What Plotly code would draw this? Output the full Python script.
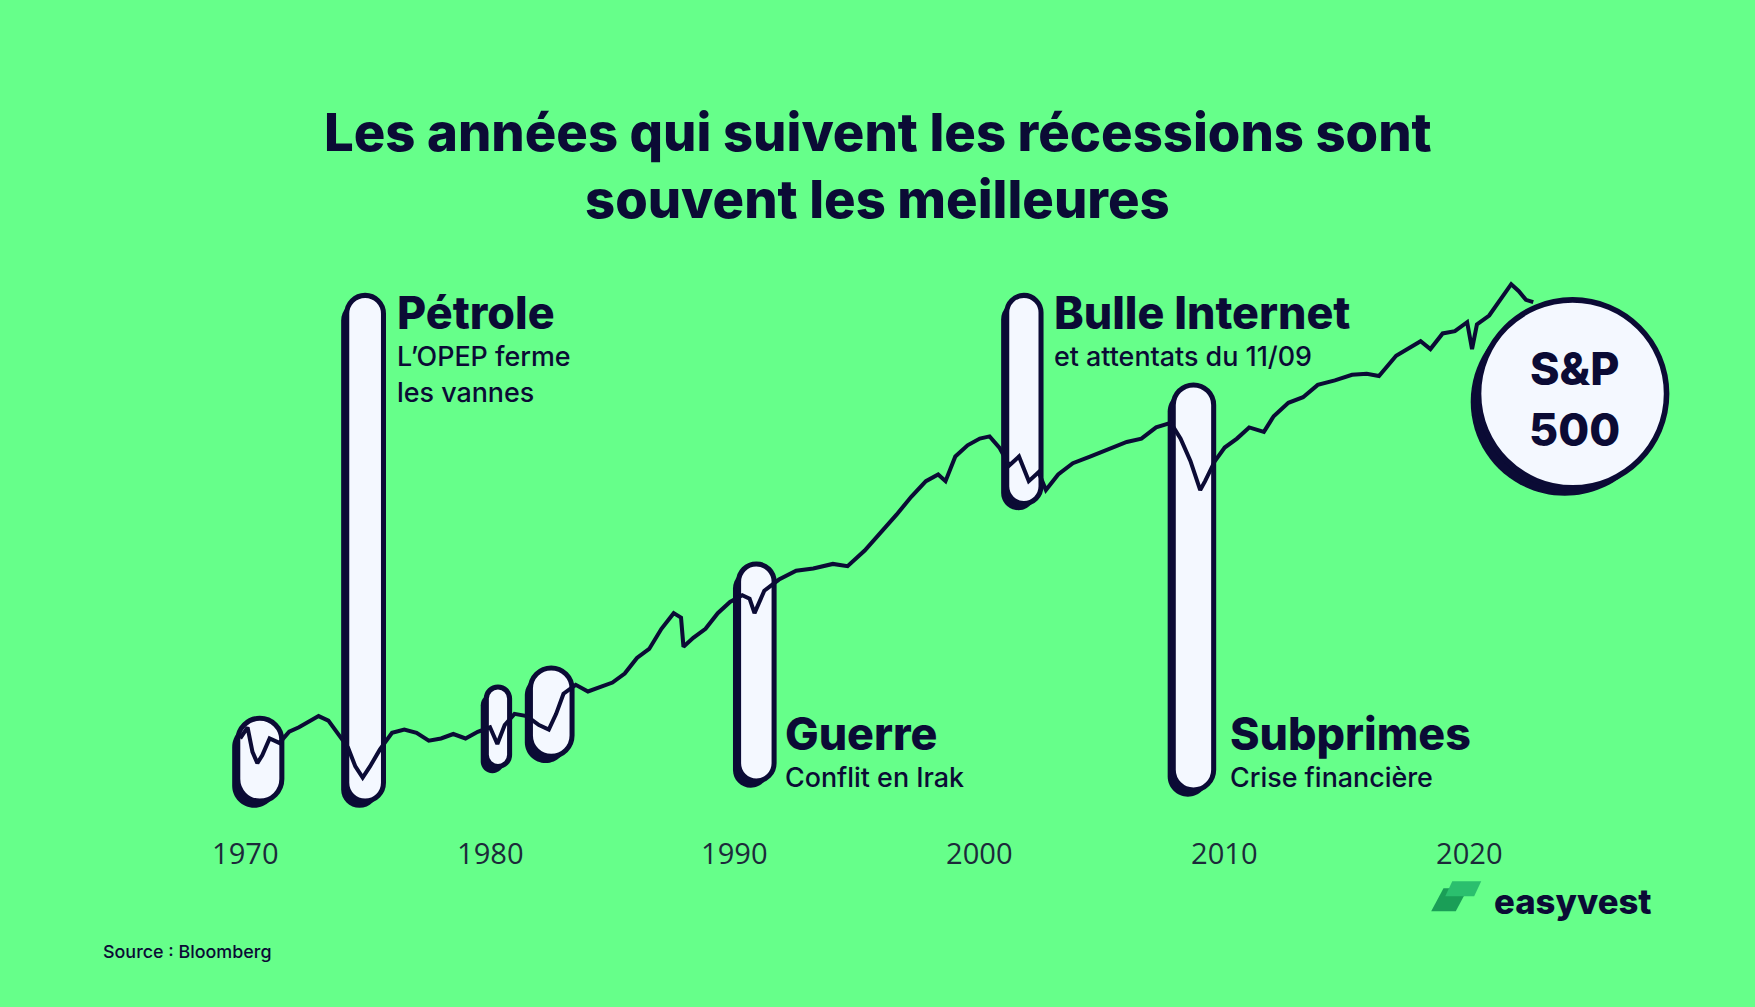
import plotly.graph_objects as go

# reference drawn at 1568x900, page is 1755x1007
S = 1755 / 1568
W, H = 1568, 900
BG = "#66ff8a"
NAVY = "#0b0b35"
WHITE = "#f4f8ff"
FONT = "Inter"

# S&P 500 path (year, level in chart units: higher = up)
years = [1969.8, 1970.1, 1970.3, 1970.5, 1970.7, 1971.0, 1971.4, 1971.8, 1972.2, 1972.6, 1973.0,
         1973.4, 1973.8, 1974.2, 1974.5, 1974.8, 1975.1, 1975.5, 1976.0, 1976.5, 1977.0, 1977.5,
         1978.0, 1978.5, 1979.0, 1979.5, 1980.0, 1980.3, 1980.6, 1981.0, 1981.5, 1982.0, 1982.4,
         1982.7, 1983.0, 1983.5, 1984.0, 1984.5, 1985.0, 1985.5, 1986.0, 1986.5, 1987.0, 1987.5,
         1987.8, 1987.9, 1988.3, 1988.8, 1989.3, 1989.8, 1990.3, 1990.6, 1990.8, 1991.2, 1991.8,
         1992.5, 1993.2, 1994.0, 1994.6, 1995.3, 1996.0, 1996.6, 1997.2, 1997.8, 1998.3, 1998.6,
         1999.0, 1999.5, 2000.0, 2000.4, 2000.8, 2001.2, 2001.6, 2002.0, 2002.4, 2002.7, 2003.2,
         2003.8, 2004.5, 2005.2, 2006.0, 2006.6, 2007.2, 2007.8, 2008.2, 2008.6, 2009.0, 2009.2,
         2009.6, 2010.0, 2010.5, 2011.0, 2011.6, 2012.0, 2012.6, 2013.2, 2013.8, 2014.5, 2015.2,
         2015.8, 2016.3, 2017.0, 2017.6, 2018.0, 2018.4, 2018.9, 2019.4, 2019.9, 2020.1, 2020.3,
         2020.8, 2021.3, 2021.7, 2022.0, 2022.3, 2022.6]
levels = [240, 250, 228, 218, 225, 240, 236, 246, 250, 255, 260,
          256, 244, 232, 215, 205, 215, 230, 245, 248, 245, 238,
          240, 244, 240, 246, 250, 235, 252, 262, 260, 252, 248,
          262, 280, 288, 282, 286, 290, 298, 312, 320, 338, 352,
          348, 322, 330, 338, 352, 362, 368, 365, 352, 372, 382,
          390, 392, 396, 394, 408, 425, 440, 456, 470, 476, 470,
          492, 502, 508, 510, 500, 484, 492, 470, 478, 462, 476,
          486, 492, 498, 505, 508, 518, 522, 508, 488, 462, 470,
          488, 500, 508, 518, 514, 528, 540, 545, 556, 560, 565,
          566, 564, 582, 590, 595, 588, 602, 604, 612, 588, 610,
          618, 634, 646, 640, 632, 630]

# recession pills: start year, end year, bottom level, top level
rec_start = [1969.7, 1974.15, 1979.85, 1981.65, 1990.15, 2001.1, 2007.9]
rec_end = [1971.5, 1975.65, 1980.8, 1983.35, 1991.6, 2002.5, 2009.55]
rec_low = [184, 184, 215, 224, 202, 450, 194]
rec_high = [258, 636, 286, 303, 396, 636, 556]

tick_years = [1970, 1980, 1990, 2000, 2010, 2020]

PPY = 21.88  # px per year
X0 = 1970 - 219 / PPY
X1 = 1970 + (W - 219) / PPY


def px2yr(px):
    return 1970 + (px - 219) / PPY


def yr2px(yr):
    return 219 + (yr - 1970) * PPY


def pill(x0, x1, y0, y1):
    # rounded pill in px (x) and level (y) coords, returned as path in data coords
    r = (x1 - x0) / 2
    k = 0.5523 * r
    cx = (x0 + x1) / 2
    pts = [
        ("M", [(x0, y0 + r)]),
        ("L", [(x0, y1 - r)]),
        ("C", [(x0, y1 - r + k), (cx - k, y1), (cx, y1)]),
        ("C", [(cx + k, y1), (x1, y1 - r + k), (x1, y1 - r)]),
        ("L", [(x1, y0 + r)]),
        ("C", [(x1, y0 + r - k), (cx + k, y0), (cx, y0)]),
        ("C", [(cx - k, y0), (x0, y0 + r - k), (x0, y0 + r)]),
    ]
    s = ""
    for cmd, ps in pts:
        s += cmd + " ".join(f"{px2yr(a):.4f},{b:.2f}" for a, b in ps) + " "
    return s + "Z"


fig = go.Figure()
shapes = []
for a, b, lo, hi in zip(rec_start, rec_end, rec_low, rec_high):
    x0, x1 = yr2px(a), yr2px(b)
    shapes.append(dict(type="path", path=pill(x0 - 5, x1 - 5, lo - 6, hi - 6),
                       fillcolor=NAVY, line=dict(width=0), layer="below"))
    shapes.append(dict(type="path", path=pill(x0, x1, lo, hi),
                       fillcolor=WHITE, line=dict(color=NAVY, width=4.5 * S), layer="below"))

# S&P badge
cx, cy, rr = 1405, 900 - 352, 84
shapes.append(dict(type="path", path=pill(cx - rr - 7, cx + rr - 7, cy - rr - 7, cy + rr - 7),
                   fillcolor=NAVY, line=dict(width=0)))
shapes.append(dict(type="path", path=pill(cx - rr, cx + rr, cy - rr, cy + rr),
                   fillcolor=WHITE, line=dict(color=NAVY, width=5 * S)))

# logo mark
shapes.append(dict(type="path", xref="paper", yref="paper",
                   path="M0.8225,0.118 L0.8365,0.118 L0.8295,0.095 L0.8155,0.095 Z",
                   fillcolor="#1a9e57", line=dict(width=0)))
shapes.append(dict(type="path", xref="paper", yref="paper",
                   path="M0.8275,0.125 L0.8440,0.125 L0.8400,0.110 L0.8235,0.110 Z",
                   fillcolor="#2bbf6e", line=dict(width=0)))

fig.add_trace(go.Scatter(x=years, y=levels, mode="lines",
                         line=dict(color=NAVY, width=3.6 * S), hoverinfo="skip"))

ann = []


def txt(x, y, t, size, bold=False, anchor="left", color=NAVY, font=FONT):
    ann.append(dict(x=x / W, y=1 - y / H, xref="paper", yref="paper", text=t, showarrow=False,
                    xanchor=anchor, yanchor="middle", align=anchor,
                    font=dict(family=font, size=size * S, color=color,
                              weight=800 if bold else 500)))


txt(784, 118, "Les années qui suivent les récessions sont", 47, True, "center")
txt(784, 178, "souvent les meilleures", 47, True, "center")
txt(353, 280, "Pétrole", 40, True)
txt(353, 318, "L’OPEP ferme", 24)
txt(353, 350, "les vannes", 24)
txt(940, 280, "Bulle Internet", 40, True)
txt(940, 318, "et attentats du 11/09", 24)
txt(700, 656, "Guerre", 40, True)
txt(700, 694, "Conflit en Irak", 24)
txt(1097, 656, "Subprimes", 40, True)
txt(1097, 694, "Crise financière", 24)
txt(1407, 330, "S&P", 40, True, "center")
txt(1407, 384, "500", 40, True, "center")
txt(1333, 805, "easyvest", 31, True)
txt(90, 850, "Source : Bloomberg", 16)

for t in tick_years:
    ann.append(dict(x=t, y=1 - 762 / H, xref="x", yref="paper", text=str(t), showarrow=False,
                    yanchor="middle",
                    font=dict(family="Open Sans", size=26 * S, color="#1c2a3a")))

fig.update_layout(
    width=1755, height=1007, margin=dict(l=0, r=0, t=0, b=0),
    paper_bgcolor=BG, plot_bgcolor=BG, showlegend=False,
    shapes=shapes, annotations=ann,
    xaxis=dict(range=[X0, X1], showgrid=False, zeroline=False, showline=False,
               showticklabels=False, ticks=""),
    yaxis=dict(range=[0, H], visible=False),
)

fig.write_html("out.html", config={"displayModeBar": False},
               post_script="document.body.style.margin='0';")
